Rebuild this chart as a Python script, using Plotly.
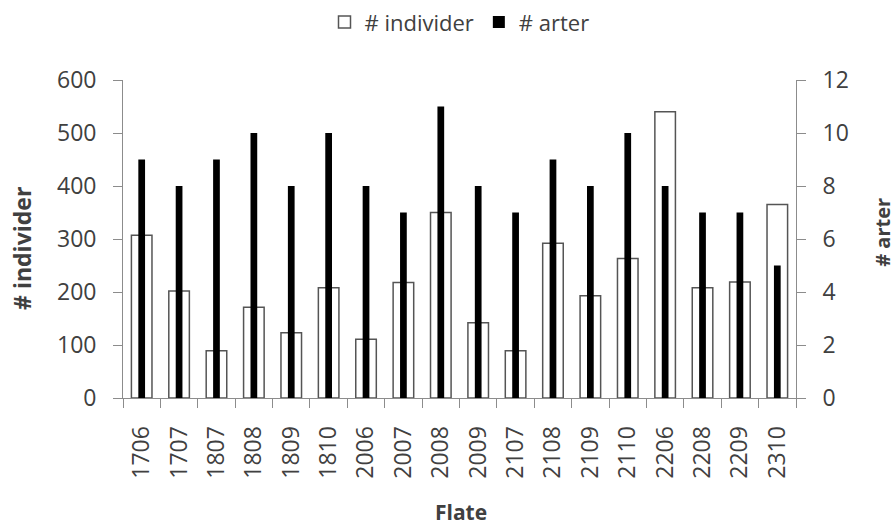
import plotly.graph_objects as go

flate = ["1706", "1707", "1807", "1808", "1809", "1810", "2006", "2007", "2008",
         "2009", "2107", "2108", "2109", "2110", "2206", "2208", "2209", "2310"]
individer = [307, 202, 89, 171, 123, 208, 111, 218, 350,
             142, 89, 292, 193, 263, 540, 208, 219, 365]
arter = [9, 8, 9, 10, 8, 10, 8, 7, 11, 8, 7, 9, 8, 10, 8, 7, 7, 5]

FONT = "Open Sans, Liberation Sans, sans-serif"
TXT = "#404040"
AX = "#8c8c8c"
FS = 23

fig = go.Figure()
fig.add_trace(go.Bar(
    x=flate, y=individer, name="# individer", yaxis="y",
    width=0.55, marker=dict(color="white", line=dict(color="#555555", width=1.5)),
))
fig.add_trace(go.Bar(
    x=flate, y=arter, name="# arter", yaxis="y2",
    width=0.18, marker=dict(color="black", line=dict(width=0)),
))

fig.update_layout(
    width=896, height=525,
    margin=dict(l=123, r=100, t=80, b=127, autoexpand=False),
    plot_bgcolor="white", paper_bgcolor="white",
    barmode="overlay",
    font=dict(family=FONT, size=FS, color=TXT),
    showlegend=True,
    legend=dict(orientation="h", x=0.5, xanchor="center", y=1.182, yanchor="middle",
                font=dict(size=22, color=TXT), itemwidth=30, traceorder="normal"),
    xaxis=dict(
        type="category", tickson="boundaries", ticks="outside", ticklen=9,
        tickcolor=AX, showline=True, linecolor=AX, linewidth=1,
        tickangle=-90, tickfont=dict(size=FS, color=TXT), showgrid=False,
        ticksuffix="   ", automargin=False,
    ),
    yaxis=dict(
        range=[0, 600], dtick=100, ticks="outside", ticklen=9, tickcolor=AX,
        showline=True, linecolor=AX, showgrid=False, zeroline=False,
        tickfont=dict(size=FS, color=TXT), ticksuffix="  ", automargin=False,
    ),
    yaxis2=dict(
        range=[0, 12], dtick=2, overlaying="y", side="right", ticks="outside",
        ticklen=9, tickcolor=AX, showline=True, linecolor=AX,
        showgrid=False, zeroline=False, tickfont=dict(size=FS, color=TXT),
        tickprefix="  ", automargin=False,
    ),
    annotations=[
        dict(text="<b># individer</b>", xref="paper", yref="paper", x=-0.150, y=0.469,
             textangle=-90, showarrow=False, font=dict(size=FS, color=TXT),
             xanchor="center", yanchor="middle"),
        dict(text="<b># arter</b>", xref="paper", yref="paper", x=1.128, y=0.52,
             textangle=-90, showarrow=False, font=dict(size=20, color=TXT),
             xanchor="center", yanchor="middle"),
        dict(text="<b>Flate</b>", xref="paper", yref="paper", x=0.502, y=-0.357,
             showarrow=False, font=dict(size=21, color=TXT),
             xanchor="center", yanchor="middle"),
    ],
)

fig.write_html(
    "out.html",
    config={"displayModeBar": False},
    post_script="document.body.style.margin='0';document.body.style.overflow='hidden';",
)
